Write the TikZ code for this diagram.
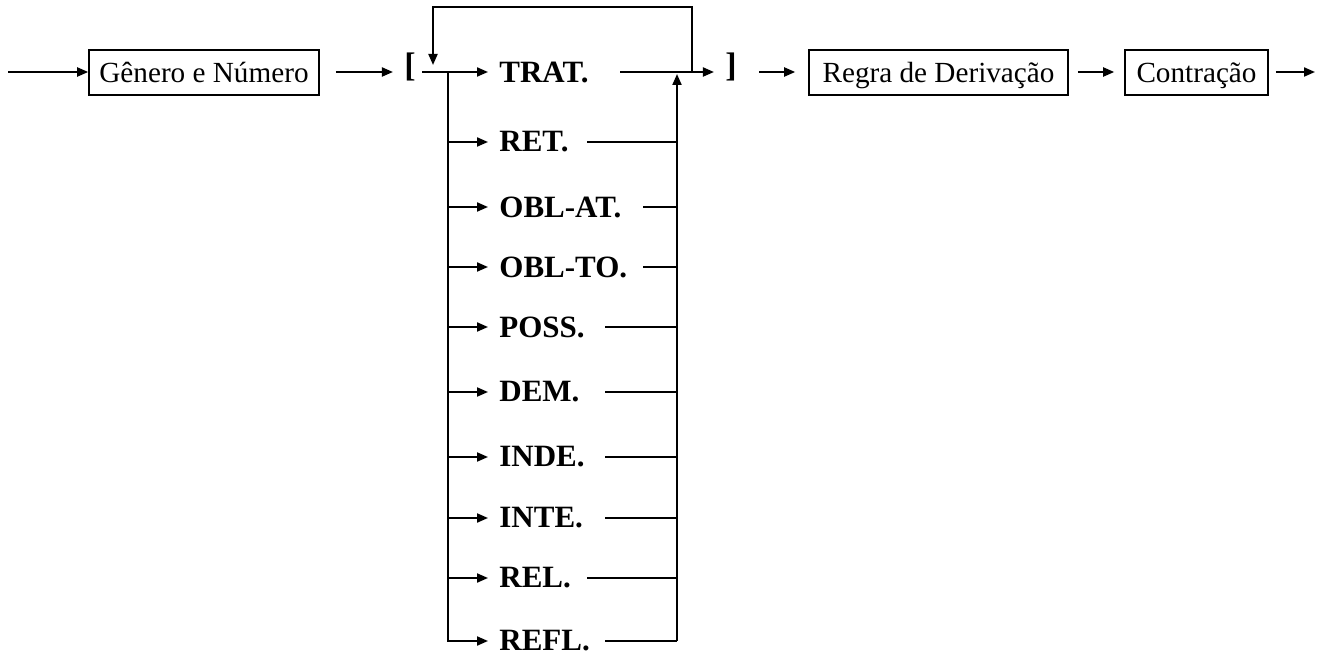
\documentclass[tikz,border=0pt]{standalone}
\usepackage{fontspec}
\setmainfont{Liberation Serif}
\usetikzlibrary{arrows.meta}
\begin{document}
\begin{tikzpicture}[x=0.5pt,y=-0.5pt,
  conn/.style={line width=1pt},
  arr/.style={conn,-{Triangle[length=5.5pt,width=4.5pt]}},
  box/.style={draw,line width=0.8pt,inner sep=0pt,minimum height=22.5pt,text height=1.05em,text depth=0.05em,font=\fontsize{14.6}{17}\selectfont},
  lab/.style={anchor=west,inner sep=0pt,font=\bfseries\fontsize{15.5}{18}\selectfont},
  brk/.style={inner sep=0pt,font=\bfseries\fontsize{17}{20}\selectfont}]
\useasboundingbox (0,0) rectangle (1322,657);
% main row
\coordinate (start) at (8,72);
\node[box,minimum width=115pt] (gn) at (204,72.5) {Gênero e Número};
\node[brk] (lb) at (410,67) {[};
\node[brk] (rb) at (731,67) {]};
\node[box,minimum width=129.5pt] (rd) at (938.5,72.5) {Regra de Derivação};
\node[box,minimum width=71.5pt] (ct) at (1196.5,72.5) {Contração};
\coordinate (end) at (1315,72);
\draw[arr] (start) -- (start -| gn.west);
\draw[arr,shorten <=8pt,shorten >=5.5pt] (gn.east |- start) -- (lb.west |- start);
\draw[arr,shorten <=11pt,shorten >=6.5pt] (rb.east |- start) -- (rd.west |- start);
\draw[arr,shorten <=4.5pt,shorten >=5pt] (rd.east |- start) -- (ct.west |- start);
\draw[arr,shorten <=3.5pt] (ct.east |- start) -- (end);
% option rows
\foreach \n/\t/\y/\e in {1/TRAT./72/620, 2/RET./142/587, 3/OBL-AT./207/643,
  4/OBL-TO./267/643, 5/POSS./327/605, 6/DEM./392/605, 7/INDE./457/605,
  8/INTE./518/605, 9/REL./578/587, 10/REFL./641/605}{
  \node[lab] (l\n) at (499,\y) {\t};
  \coordinate (b\n) at (448,\y);
  \coordinate (e\n) at (\e,\y);
  \coordinate (r\n) at (677,\y);
}
\coordinate (j0) at (422,72);
\coordinate (lp) at (692,72);
\coordinate (lpt) at (692,7);
\coordinate (ldt) at (433,7);
\coordinate (ldb) at (433,65);
% entry and left branch
\draw[arr,shorten >=5.5pt] (j0) -- (l1.west);
\foreach \n in {2,...,9}{\draw[arr,shorten >=5.5pt] (b\n) -- (l\n.west);}
\draw[arr,shorten >=5.5pt] (b1) -- (b10) -- (l10.west);
% right collector
\foreach \n in {2,...,10}{\draw[conn] (e\n) -- (r\n);}
\draw[arr,shorten >=1pt] (r10) -- (r1);
\draw[conn] (e1) -- (lp);
\draw[arr,shorten >=5.5pt] (lp) -- (rb.west |- lp);
% loop back
\draw[arr] (lp) -- (lpt) -- (ldt) -- (ldb);
\end{tikzpicture}
\end{document}
